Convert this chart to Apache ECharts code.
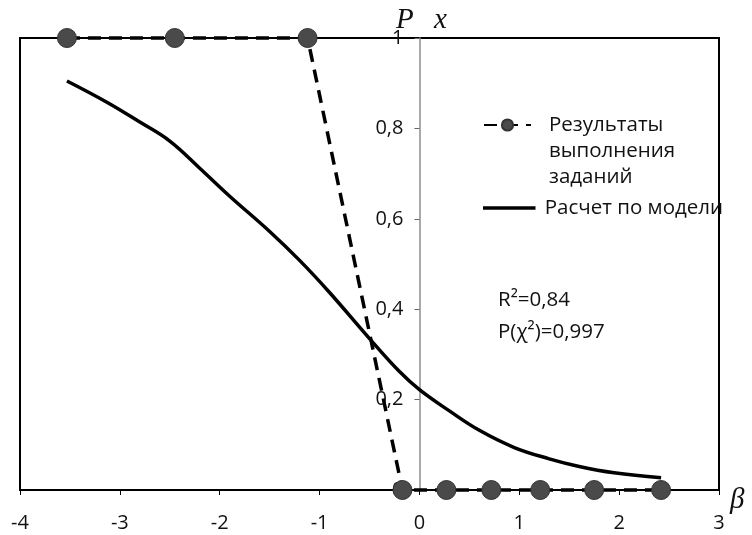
<!DOCTYPE html>
<html>
<head>
<meta charset="utf-8">
<script src="https://cdn.jsdelivr.net/npm/echarts@6/dist/echarts.min.js"></script>
<style>html,body{margin:0;padding:0;background:#fff}#c{width:752px;height:535px}</style>
</head>
<body>
<div id="c"></div>
<script>
// Data
const seriesNames = ['Результаты\nвыполнения\nзаданий', 'Расчет по модели'];
const betaResults = [-3.53, -2.45, -1.12, -0.17, 0.27, 0.72, 1.21, 1.75, 2.42];
const pResults    = [1, 1, 1, 0, 0, 0, 0, 0, 0];
const betaModel = [-3.53, -3.13, -2.8, -2.5, -2.2, -1.9, -1.5, -1.2, -0.9, -0.5, -0.2, 0, 0.3, 0.6, 0.95, 1.3, 1.6, 1.95, 2.42];
const pModel    = [0.905, 0.858, 0.814, 0.772, 0.712, 0.650, 0.572, 0.508, 0.437, 0.335, 0.262, 0.222, 0.175, 0.132, 0.094, 0.069, 0.052, 0.038, 0.027];
const xTicks = {min: -4, max: 3, step: 1};
const yTicks = {min: 0, max: 1, step: 0.2};
const stats = ['R²=0,84', 'P(χ²)=0,997'];

const FONT = '"Open Sans", Lato, sans-serif';
const SERIF = '"Liberation Serif", "DejaVu Serif", serif';
const FS = 20;
const FS2 = 20.5;
const GRID = {left: 20, right: 33, top: 38, bottom: 45};
const chart = echarts.init(document.getElementById('c'), null, {renderer: 'canvas'});
const gridWidth = 752 - GRID.left - GRID.right;
const yAxisOffset = -gridWidth * (0 - xTicks.min) / (xTicks.max - xTicks.min);

chart.setOption({
  animation: false,
  backgroundColor: '#fff',
  grid: Object.assign({show: true, borderColor: '#000', borderWidth: 2, containLabel: false, outerBoundsMode: 'none'}, GRID),
  xAxis: {
    type: 'value', min: xTicks.min, max: xTicks.max, interval: xTicks.step,
    axisLine: {onZero: false, lineStyle: {color: '#000', width: 2}},
    axisTick: {show: true, length: 5, lineStyle: {color: '#000', width: 1}},
    axisLabel: {color: '#111', fontSize: FS, fontFamily: FONT, margin: 23},
    splitLine: {show: false}
  },
  yAxis: {
    type: 'value', min: yTicks.min, max: yTicks.max, interval: yTicks.step,
    position: 'left', offset: yAxisOffset,
    axisLine: {onZero: false, lineStyle: {color: '#8c8c8c', width: 1.5}},
    axisTick: {show: true, length: 5, lineStyle: {color: '#666', width: 1}},
    axisLabel: {color: '#111', fontSize: FS, fontFamily: FONT, margin: 16,
      formatter: v => String(Math.round(v * 10) / 10).replace('.', ',')},
    splitLine: {show: false}
  },
  legend: [
    {
      left: 483, top: 60, orient: 'vertical', itemWidth: 47, itemHeight: 14, padding: 0,
      data: [{name: seriesNames[0]}],
      formatter: name => '\n\n' + name,
      textStyle: {fontSize: FS2, lineHeight: 26, color: '#111', fontFamily: FONT, padding: [0, 0, 0, 13]}
    },
    {
      left: 483, top: 195, orient: 'vertical', itemWidth: 61, itemHeight: 3.5, padding: 0,
      data: [{name: seriesNames[1], icon: 'path://M0 0H60V4H0Z'}],
      itemStyle: {color: '#000'},
      textStyle: {fontSize: FS2, lineHeight: 26, color: '#111', fontFamily: FONT}
    }
  ],
  graphic: [
    {type: 'text', left: 498, top: 290, style: {text: stats[0], fontSize: FS2, fill: '#111', fontFamily: FONT}},
    {type: 'text', left: 498, top: 322, style: {text: stats[1], fontSize: FS2, fill: '#111', fontFamily: FONT}},
    {type: 'text', left: 396, top: 6, style: {text: 'P', fontSize: 29, fontStyle: 'italic', fill: '#111', fontFamily: SERIF}},
    {type: 'text', left: 434, top: 6, style: {text: 'x', fontSize: 29, fontStyle: 'italic', fill: '#111', fontFamily: SERIF}},
    {type: 'text', left: 730, top: 486, style: {text: 'β', fontSize: 29, fontStyle: 'italic', fill: '#111', fontFamily: SERIF}}
  ],
  series: [
    {
      name: seriesNames[0], type: 'line', clip: false,
      data: betaResults.map((b, i) => [b, pResults[i]]),
      symbol: 'circle', symbolSize: 19,
      itemStyle: {color: '#4a4a4a', borderColor: '#333', borderWidth: 1},
      lineStyle: {color: '#000', width: 3.5, type: [13, 8]},
      z: 3
    },
    {
      name: seriesNames[1], type: 'line', clip: false, smooth: 0.4,
      data: betaModel.map((b, i) => [b, pModel[i]]),
      showSymbol: false, symbol: 'none',
      itemStyle: {color: '#000'},
      lineStyle: {color: '#000', width: 3.5},
      z: 2
    }
  ]
});
</script>
</body>
</html>
